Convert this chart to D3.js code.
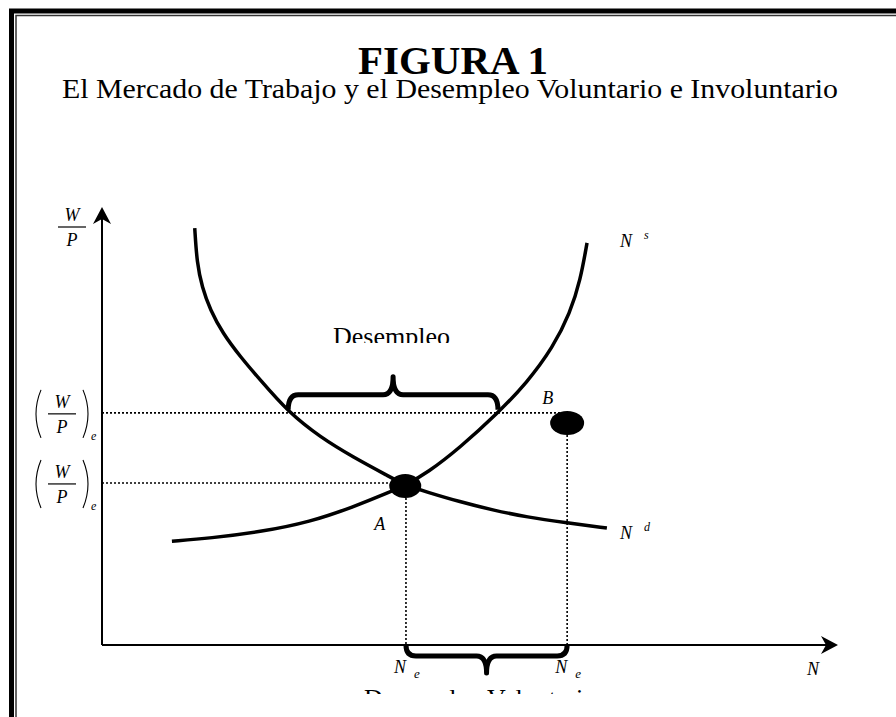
<!DOCTYPE html>
<html>
<head>
<meta charset="utf-8">
<script src="https://cdn.jsdelivr.net/npm/d3@7"></script>
<style>
  body { margin: 0; background: #fff; }
  svg { display: block; }
  text { font-family: "Liberation Serif", "Times New Roman", serif; fill: #000; }
</style>
</head>
<body>
<svg id="viz"></svg>
<script>
const width = 896, height = 717;

// curves, in chart units (0-100 on both axes)
const demandCurve = [[12.6,95.2],[12.9,87.2],[13.6,81.7],[14.7,76.5],[16.4,71.2],[18.8,65.8],[21.5,60.5],
  [25.3,53.2],[29.6,47.5],[34.1,42.9],[39.1,38.4],[41.2,36.5],[44.2,34.9],[48.6,32.7],[53.1,30.8],
  [57.7,29.2],[63.2,27.9],[68.6,26.7]];
const supplyCurve = [[9.5,23.7],[14.7,24.4],[21.5,25.8],[28.3,28.1],[34.1,31.5],[39.1,34.9],[41.2,36.5],
  [44.2,39.3],[48.6,45.0],[53.8,53.0],[57.7,59.8],[61.3,68.0],[63.6,75.8],[65.0,83.3],[65.9,91.8]];

const wageLevels = [53.0, 37.0];          // (W/P)e high, (W/P)e equilibrium
const points = [
  {name: "A", x: 41.2, y: 36.3, rx: 16, ry: 12, lx: -31, ly: 44},
  {name: "B", x: 63.2, y: 50.7, rx: 17, ry: 12, lx: -25, ly: -19}
];
const employment = [41.3, 63.2];          // Ne positions on the N axis
const gapBrace = [25.3, 53.8];            // where the curves cross the high wage

const svg = d3.select("#viz").attr("width", width).attr("height", height);

const x = d3.scaleLinear().domain([0, 100]).range([102, 838]);
const y = d3.scaleLinear().domain([0, 100]).range([645, 207]);

// frame
svg.append("rect").attr("x", 11.5).attr("y", 11).attr("width", 900).attr("height", 720)
  .attr("fill", "none").attr("stroke", "#000").attr("stroke-width", 5);
svg.append("rect").attr("x", 16).attr("y", 15.5).attr("width", 900).attr("height", 720)
  .attr("fill", "none").attr("stroke", "#333").attr("stroke-width", 1.5);

// titles
svg.append("text").attr("x", 453).attr("y", 74).attr("text-anchor", "middle")
  .attr("font-size", 40).attr("font-weight", "bold")
  .attr("textLength", 190).attr("lengthAdjust", "spacingAndGlyphs")
  .text("FIGURA 1");
svg.append("text").attr("x", 62).attr("y", 98)
  .attr("font-size", 27)
  .attr("textLength", 776).attr("lengthAdjust", "spacingAndGlyphs")
  .text("El Mercado de Trabajo y el Desempleo Voluntario e Involuntario");

// dotted guides
const dots = svg.append("g").attr("stroke", "#000").attr("stroke-width", 1.6)
  .attr("stroke-dasharray", "2,2");
dots.append("line").attr("x1", x(0)).attr("x2", x(points[1].x) - 4)
  .attr("y1", y(wageLevels[0])).attr("y2", y(wageLevels[0]));
dots.append("line").attr("x1", x(0)).attr("x2", x(points[0].x))
  .attr("y1", y(wageLevels[1])).attr("y2", y(wageLevels[1]));
employment.forEach((e, i) => {
  dots.append("line").attr("x1", x(e)).attr("x2", x(e))
    .attr("y1", y(points[i].y) + points[i].ry).attr("y2", y(0));
});

// axes
svg.append("line").attr("x1", x(0)).attr("y1", y(0)).attr("x2", x(0)).attr("y2", y(100) + 6)
  .attr("stroke", "#000").attr("stroke-width", 2);
svg.append("line").attr("x1", x(0)).attr("y1", y(0)).attr("x2", x(100) - 6).attr("y2", y(0))
  .attr("stroke", "#000").attr("stroke-width", 2);
const ax = x(0), ay = y(100);
svg.append("path").attr("d", `M${ax},${ay} L${ax+9},${ay+17} L${ax},${ay+12} L${ax-9},${ay+17} Z`);
const bx = x(100), by = y(0);
svg.append("path").attr("d", `M${bx},${by} L${bx-17},${by-9} L${bx-12},${by} L${bx-17},${by+9} Z`);

// curves
const line = d3.line().x(d => x(d[0])).y(d => y(d[1])).curve(d3.curveBasis);
[demandCurve, supplyCurve].forEach(c => {
  svg.append("path").attr("d", line(c)).attr("fill", "none")
    .attr("stroke", "#000").attr("stroke-width", 3.5);
});

// braces
function brace(x1, x2, y0, dir, d1, depth) {
  const xm = (x1 + x2) / 2, r = 10, yh = y0 + dir * d1, yt = y0 + dir * depth;
  return `M${x1},${y0} Q${x1},${yh} ${x1+r},${yh} L${xm-r},${yh} Q${xm},${yh} ${xm},${yt}` +
         ` Q${xm},${yh} ${xm+r},${yh} L${x2-r},${yh} Q${x2},${yh} ${x2},${y0}`;
}
svg.append("path").attr("d", brace(x(gapBrace[0]), x(gapBrace[1]), y(wageLevels[0]) - 3, -1, 15, 33))
  .attr("fill", "none").attr("stroke", "#000").attr("stroke-width", 5).attr("stroke-linejoin", "round");
svg.append("path").attr("d", brace(x(employment[0]), x(employment[1]), y(0), 1, 11, 28))
  .attr("fill", "none").attr("stroke", "#000").attr("stroke-width", 5).attr("stroke-linejoin", "round");

// equilibrium points
svg.selectAll("ellipse.pt").data(points).enter().append("ellipse")
  .attr("cx", d => x(d.x)).attr("cy", d => y(d.y))
  .attr("rx", d => d.rx).attr("ry", d => d.ry).attr("fill", "#000");
svg.selectAll("text.pt").data(points).enter().append("text")
  .attr("x", d => x(d.x) + d.lx).attr("y", d => y(d.y) + d.ly)
  .attr("font-size", 18).attr("font-style", "italic").text(d => d.name);

// clipped captions
const defs = svg.append("defs");
defs.append("clipPath").attr("id", "clipTop").append("rect")
  .attr("x", 0).attr("y", 0).attr("width", width).attr("height", 343);
defs.append("clipPath").attr("id", "clipBot").append("rect")
  .attr("x", 0).attr("y", 0).attr("width", width).attr("height", 694);
svg.append("text").attr("x", 333).attr("y", 345).attr("font-size", 26)
  .attr("clip-path", "url(#clipTop)").text("Desempleo");
svg.append("text").attr("x", 364).attr("y", 707).attr("font-size", 26)
  .attr("clip-path", "url(#clipBot)").text("Desempleo Voluntario");

// italic labels
function lab(tx, ty, t, sup, sub) {
  const g = svg.append("g").attr("font-style", "italic");
  g.append("text").attr("x", tx).attr("y", ty).attr("font-size", 18).text(t);
  if (sup) g.append("text").attr("x", tx + 24).attr("y", ty - 8).attr("font-size", 12).text(sup);
  if (sub) g.append("text").attr("x", tx + 20).attr("y", ty + 5).attr("font-size", 13).text(sub);
}
lab(620, 247, "N", "s");
lab(620, 539, "N", "d");
employment.forEach(e => lab(x(e) - 12, 673, "N", null, "e"));
lab(807, 675, "N");

// W/P fractions
function frac(cx, cy, parens) {
  const g = svg.append("g");
  g.append("text").attr("x", cx).attr("y", cy - 6).attr("text-anchor", "middle")
    .attr("font-size", 18).attr("font-style", "italic").text("W");
  g.append("line").attr("x1", cx - 14).attr("x2", cx + 14).attr("y1", cy).attr("y2", cy)
    .attr("stroke", "#000").attr("stroke-width", 1.2);
  g.append("text").attr("x", cx).attr("y", cy + 19).attr("text-anchor", "middle")
    .attr("font-size", 18).attr("font-style", "italic").text("P");
  if (parens) {
    g.append("path").attr("d", `M${cx-21},${cy-24} Q${cx-31},${cy} ${cx-21},${cy+24}`)
      .attr("fill", "none").attr("stroke", "#000").attr("stroke-width", 1.1);
    g.append("path").attr("d", `M${cx+21},${cy-24} Q${cx+31},${cy} ${cx+21},${cy+24}`)
      .attr("fill", "none").attr("stroke", "#000").attr("stroke-width", 1.1);
    g.append("text").attr("x", cx + 29).attr("y", cy + 26).attr("font-size", 12)
      .attr("font-style", "italic").text("e");
  }
}
frac(72, 227, false);
wageLevels.forEach(w => frac(62, y(w) + 1, true));
</script>
</body>
</html>
